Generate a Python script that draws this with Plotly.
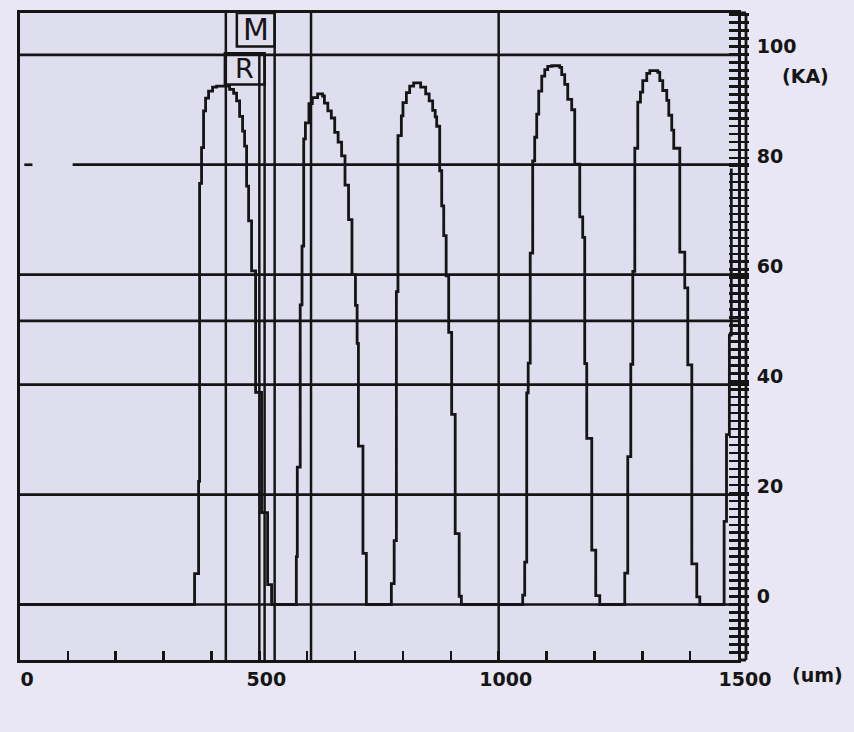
import plotly.graph_objects as go

# ---------------- data ----------------
POSITION_UM = [
    0,
    # pulse 1
    364.7, 373.1, 375.2, 379.3, 383.5, 387.7, 394.0, 402.3, 410.7,
    437.9, 446.3, 452.5, 458.8, 465.0, 469.2, 473.4, 477.6, 483.8, 492.2, 504.7, 517.3, 525.6,
    # pulse 2
    577.3, 579.3, 585.4, 589.2, 592.7, 596.3, 603.6, 610.7, 621.8,
    632.2, 636.0, 643.1, 650.4, 657.5, 664.6, 671.9, 679.0, 686.4, 693.5, 700.8, 704.3, 707.0, 716.5, 723.6,
    # pulse 3
    775.8, 781.7, 786.3, 789.6, 796.7, 800.1, 807.2, 814.1, 822.4,
    837.0, 847.5, 854.8, 862.1, 867.4, 870.5, 876.8, 881.0, 885.2, 890.3, 895.6, 901.8, 909.2, 917.5, 922.1,
    # pulse 4
    1050.2, 1054.4, 1058.6, 1061.7, 1065.9, 1071.1, 1075.3, 1079.5, 1083.7, 1090.0, 1096.3, 1102.5, 1110.9,
    1127.5, 1131.7, 1138.0, 1144.3, 1152.6, 1158.9, 1169.4, 1175.6, 1179.8, 1184.0, 1194.5, 1202.8, 1211.2,
    # pulse 5
    1263.4, 1269.7, 1276.0, 1280.2, 1284.4, 1290.6, 1296.2, 1301.0, 1309.4, 1315.7,
    1332.4, 1336.6, 1342.8, 1351.2, 1355.4, 1361.6, 1365.8, 1378.4, 1388.8, 1395.1, 1403.5, 1413.9, 1420.2,
    # pulse 6 (rising edge, cut by the frame)
    1471, 1476, 1482, 1486, 1486,
]
CURRENT_KA = [
    0,
    0, 5.6, 22.4, 76.6, 83.1, 89.8, 92.1, 93.4, 94.1,
    94.3, 93.7, 93.0, 91.6, 88.8, 86.1, 83.4, 76.1, 69.8, 60.7, 38.6, 16.7, 3.6,
    0, 8.7, 25.0, 54.5, 65.2, 84.7, 87.6, 91.1, 92.2,
    92.9, 92.5, 91.2, 89.8, 88.5, 85.9, 84.1, 81.6, 76.3, 70.0, 60.0, 54.4, 47.5, 28.8, 9.3,
    0, 3.8, 11.6, 56.9, 85.3, 88.9, 91.3, 93.1, 94.3,
    94.9, 94.1, 92.9, 91.6, 89.9, 88.7, 87.0, 78.9, 72.5, 67.1, 59.8, 49.5, 34.6, 12.9, 1.5,
    0, 1.7, 7.7, 38.5, 43.9, 63.9, 80.7, 85.0, 89.2, 93.4, 96.1, 97.3, 97.9,
    98.0, 97.7, 96.4, 94.6, 91.9, 90.0, 80.1, 70.5, 66.8, 43.8, 30.2, 9.9, 1.6,
    0, 5.7, 26.9, 43.7, 60.6, 83.0, 91.4, 93.2, 95.3, 96.6,
    97.1, 96.8, 95.3, 93.5, 91.7, 89.0, 86.3, 83.0, 64.1, 57.6, 43.6, 7.4, 1.4,
    0, 15.1, 30.9, 49.0, 79.3,
]

X_RANGE_UM = [0, 1500]
Y_RANGE_KA = [-10.1, 107.6]
X_LABEL_STEP_UM = 500
X_TICK_STEP_UM = 100
Y_LABEL_STEP_KA = 20
RULER_STEP_KA = 1.45

GRID_FULL_KA = [100, 60, 51.6, 40, 20, 0]
GRID_80_KA = 80
GRID_80_SEGMENTS_UM = [(9, 26), (110, 1500)]

CURSOR_UM = [430, 500, 511, 532, 608, 1000]
CURSOR_TOP_KA = [107.6, 100, 100, 107.6, 107.6, 107.6]

R_BOX_UM = [428, 511]
R_BOX_KA = [94.6, 100.3]
M_BOX_UM = [453, 532]
M_BOX_KA = [101.5, 107.6]

Y_UNIT = "(KA)"
X_UNIT = "(um)"

# ---------------- style ----------------
INK = "#151515"
PAPER = "#e8e7f3"
PLOT_BG = "#dfdeee"
FONT = dict(family="DejaVu Sans", size=19, color=INK, weight="bold")
PLOT_W = 854 - 20 - 116

fig = go.Figure()
fig.add_trace(go.Scatter(
    x=POSITION_UM, y=CURRENT_KA, mode="lines",
    line=dict(color=INK, width=2.8, shape="vh"),
    hoverinfo="skip", showlegend=False,
))
# invisible trace so the inner ruler axis is drawn
fig.add_trace(go.Scatter(
    x=[X_RANGE_UM[0]], y=[Y_RANGE_KA[0]], yaxis="y2", mode="markers",
    marker=dict(opacity=0), hoverinfo="skip", showlegend=False,
))

shapes = []
for v in GRID_FULL_KA:
    shapes.append(dict(type="line", xref="x", yref="y", x0=X_RANGE_UM[0], x1=X_RANGE_UM[1],
                       y0=v, y1=v, line=dict(color=INK, width=2.7), layer="below"))
for a, b in GRID_80_SEGMENTS_UM:
    shapes.append(dict(type="line", xref="x", yref="y", x0=a, x1=b,
                       y0=GRID_80_KA, y1=GRID_80_KA, line=dict(color=INK, width=2.7), layer="below"))
for u, top in zip(CURSOR_UM, CURSOR_TOP_KA):
    shapes.append(dict(type="line", xref="x", yref="y", x0=u, x1=u,
                       y0=Y_RANGE_KA[0], y1=top, line=dict(color=INK, width=2.5), layer="below"))
for bx, by in ((R_BOX_UM, R_BOX_KA), (M_BOX_UM, M_BOX_KA)):
    shapes.append(dict(type="rect", xref="x", yref="y", x0=bx[0], x1=bx[1], y0=by[0], y1=by[1],
                       line=dict(color=INK, width=2.5), fillcolor="rgba(0,0,0,0)"))
# outer rail of the ruler on the right
rail = 1 + 8 / PLOT_W
shapes.append(dict(type="line", xref="paper", yref="paper", x0=rail, x1=rail, y0=0, y1=1,
                   line=dict(color=INK, width=2.8)))
for yy in (0, 1):
    shapes.append(dict(type="line", xref="paper", yref="paper", x0=1, x1=rail, y0=yy, y1=yy,
                       line=dict(color=INK, width=3)))

annotations = [
    dict(text="M", x=sum(M_BOX_UM) / 2, y=sum(M_BOX_KA) / 2, xref="x", yref="y",
         showarrow=False, font=dict(family="DejaVu Sans", size=30, color=INK)),
    dict(text="R", x=sum(R_BOX_UM) / 2, y=sum(R_BOX_KA) / 2, xref="x", yref="y",
         showarrow=False, font=dict(family="DejaVu Sans", size=27, color=INK)),
    dict(text=Y_UNIT, x=(806 - 20) / PLOT_W, y=(660 - 73) / 650, xref="paper", yref="paper",
         showarrow=False, font=FONT, xanchor="center", yanchor="middle"),
    dict(text=X_UNIT, x=(790 - 20) / PLOT_W, y=(660 - 675) / 650, xref="paper", yref="paper",
         showarrow=False, font=FONT, xanchor="left", yanchor="middle"),
]

axis_common = dict(showgrid=False, zeroline=False, fixedrange=True)
fig.update_layout(
    width=854, height=732,
    margin=dict(l=20, r=116, t=10, b=72),
    paper_bgcolor=PAPER, plot_bgcolor=PLOT_BG,
    showlegend=False,
    shapes=shapes, annotations=annotations,
    xaxis=dict(range=X_RANGE_UM, showline=True, linecolor=INK, linewidth=3, mirror=True,
               tickmode="linear", tick0=0, dtick=X_LABEL_STEP_UM,
               ticks="inside", ticklen=9, tickwidth=2.5, tickcolor=INK,
               minor=dict(tickmode="linear", tick0=0, dtick=X_TICK_STEP_UM, ticks="inside",
                          ticklen=9, tickwidth=2.5, tickcolor=INK),
               ticklabelshift=7,
               tickfont=FONT, **axis_common),
    yaxis=dict(range=Y_RANGE_KA, side="right", showline=True, linecolor=INK, linewidth=3, mirror=True,
               tickmode="linear", tick0=0, dtick=Y_LABEL_STEP_KA,
               ticks="outside", ticklen=8, tickwidth=2.5, tickcolor=INK,
               minor=dict(tickmode="linear", tick0=0, dtick=RULER_STEP_KA, ticks="outside",
                          ticklen=8, tickwidth=2.5, tickcolor=INK),
               ticklabelstandoff=4, ticklabelshift=-8,
               tickfont=FONT, **axis_common),
    yaxis2=dict(range=Y_RANGE_KA, overlaying="y", side="right", showline=False,
                tickmode="linear", tick0=0, dtick=Y_LABEL_STEP_KA, showticklabels=False,
                ticks="inside", ticklen=9, tickwidth=2.5, tickcolor=INK,
                minor=dict(tickmode="linear", tick0=0, dtick=RULER_STEP_KA, ticks="inside",
                           ticklen=9, tickwidth=2.5, tickcolor=INK),
                **axis_common),
)

fig.write_html(
    "out.html",
    config={"displayModeBar": False, "staticPlot": True},
    post_script=(
        "document.documentElement.style.margin='0';"
        "document.body.style.margin='0';"
        "document.body.style.overflow='hidden';"
        "document.body.style.background='" + PAPER + "';"
    ),
)
